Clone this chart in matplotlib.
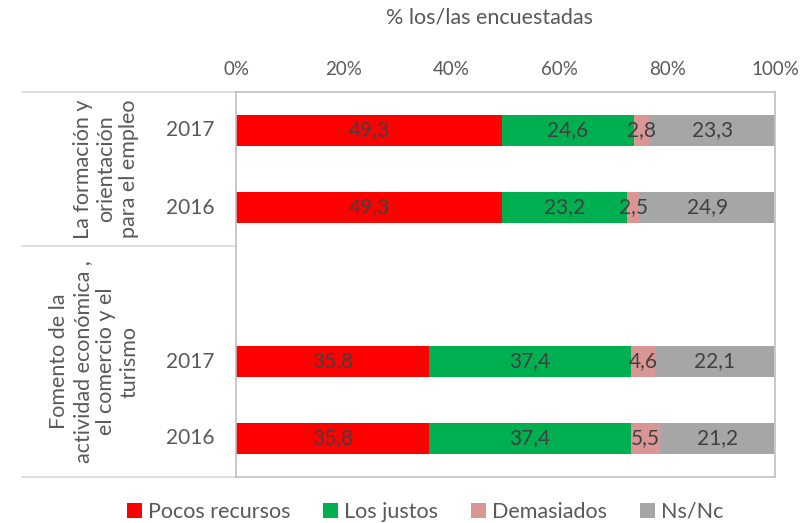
import matplotlib
matplotlib.use("Agg")
import matplotlib.pyplot as plt
from matplotlib.transforms import blended_transform_factory
from matplotlib.patches import Patch

plt.rcParams['font.family'] = ['Lato', 'DejaVu Sans']

# Data (top to bottom; None = empty slot)
years = ["2017", "2016", None, "2017", "2016"]
pocos = [49.3, 49.3, None, 35.8, 35.8]
justos = [24.6, 23.2, None, 37.4, 37.4]
demasiados = [2.8, 2.5, None, 4.6, 5.5]
nsnc = [23.3, 24.9, None, 22.1, 21.2]
series_names = ["Pocos recursos", "Los justos", "Demasiados", "Ns/Nc"]
group_labels = ["La formación y\norientación\npara el empleo",
                "Fomento de la\nactividad económica ,\nel comercio y el\nturismo"]
xticks = [0, 20, 40, 60, 80, 100]
xtick_labels = ["0%", "20%", "40%", "60%", "80%", "100%"]
axis_title = "% los/las encuestadas"

colors = ["#FF0000", "#00B050", "#DA9694", "#A6A6A6"]
txt = "#595959"
lbl = "#404040"

fig = plt.figure(figsize=(8.1, 5.23), dpi=100)
ax = fig.add_axes([236/810, 1-477/523, (775-236)/810, (477-92)/523])

series = [pocos, justos, demasiados, nsnc]
for i, y in enumerate(years):
    if y is None:
        continue
    left = 0
    for s, c in zip(series, colors):
        v = s[i]
        ax.barh(i, v, left=left, height=0.39, color=c, edgecolor='none')
        ax.text(left + v/2, i, f"{v:.1f}".replace('.', ','), ha='center', va='center',
                fontsize=15, color=lbl)
        left += v

ax.set_xlim(0, 100)
ax.set_ylim(4.5, -0.5)
ax.xaxis.tick_top()
ax.set_xticks(xticks)
ax.set_xticklabels(xtick_labels, fontsize=13.5, color=txt)
ax.tick_params(axis='x', length=0, pad=10)
ax.set_yticks([])
for sp in ax.spines.values():
    sp.set_color('#BFBFBF')
    sp.set_linewidth(1.2)

trans = blended_transform_factory(ax.transAxes, ax.transData)
x_left = (22-236)/539
for yy in [-0.5, 1.5, 4.5]:
    ax.plot([x_left, 0], [yy, yy], transform=trans, color='#D9D9D9', lw=1.2, clip_on=False)

for i, y in enumerate(years):
    if y is None:
        continue
    ax.text((190-236)/539, i, y, transform=trans, ha='center', va='center',
            fontsize=15, color=txt)

ax.text((139-236)/539, 0.5, group_labels[0], transform=trans, rotation=90,
        ha='right', va='center', multialignment='center', fontsize=15.5, color=txt,
        linespacing=1.2)
ax.text((139-236)/539, 3.0, group_labels[1], transform=trans, rotation=90,
        ha='right', va='center', multialignment='center', fontsize=15.5, color=txt,
        linespacing=1.2)

fig.text(490/810, 1-18/523, axis_title, ha='center', va='center', fontsize=15.5, color=txt)

handles = [Patch(facecolor=c, edgecolor='none') for c in colors]
fig.legend(handles, series_names, loc='center', bbox_to_anchor=(425/810, 1-512/523),
           ncol=4, frameon=False, fontsize=15.5, labelcolor=txt,
           handlelength=0.7, handleheight=0.7, handletextpad=0.3, columnspacing=1.5)

fig.savefig("out.png", dpi=100)
